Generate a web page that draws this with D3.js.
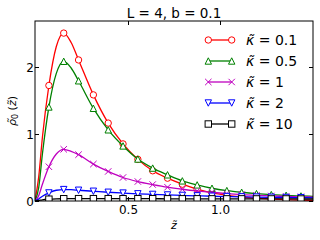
<!DOCTYPE html>
<html>
<head>
<meta charset="utf-8">
<script src="https://cdn.jsdelivr.net/npm/d3@7"></script>
<style>
  body { margin: 0; background: #fff; }
  text { font-family: "DejaVu Sans", sans-serif; }
</style>
</head>
<body>
<svg id="chart" width="320" height="240"></svg>
<script>
// z grid; markers sit at every 0.08 starting at 0.075
const z = [0, 0.02, 0.04, 0.075, 0.115, 0.155, 0.195, 0.235, 0.315, 0.395, 0.475, 0.555,
  0.635, 0.715, 0.795, 0.875, 0.955, 1.035, 1.115, 1.195, 1.275, 1.355, 1.435, 1.5];
const zMarks = [0.075, 0.155, 0.235, 0.315, 0.395, 0.475, 0.555, 0.635, 0.715, 0.795,
  0.875, 0.955, 1.035, 1.115, 1.195, 1.275, 1.355, 1.435];

const kappa01 = [0, 0.36, 0.95, 1.72, 2.3, 2.5, 2.36, 2.1, 1.58, 1.16, 0.85, 0.62,
  0.45, 0.34, 0.25, 0.175, 0.12, 0.085, 0.06, 0.042, 0.03, 0.02, 0.013, 0.01];
const kappa05 = [0, 0.2, 0.7, 1.4, 1.9, 2.08, 1.98, 1.79, 1.38, 1.06, 0.82, 0.625,
  0.49, 0.39, 0.3, 0.24, 0.19, 0.155, 0.13, 0.11, 0.095, 0.085, 0.075, 0.07];
const kappa1 = [0, 0.08, 0.25, 0.51, 0.7, 0.77, 0.74, 0.69, 0.55, 0.44, 0.35, 0.29,
  0.245, 0.205, 0.175, 0.15, 0.13, 0.11, 0.095, 0.085, 0.075, 0.068, 0.062, 0.058];
const kappa2 = [0, 0.03, 0.07, 0.12, 0.16, 0.17, 0.168, 0.16, 0.145, 0.13, 0.118, 0.107,
  0.098, 0.09, 0.083, 0.077, 0.071, 0.066, 0.062, 0.058, 0.055, 0.052, 0.05, 0.048];
const kappa10 = [0, 0.008, 0.018, 0.027, 0.032, 0.034, 0.035, 0.035, 0.035, 0.035, 0.034, 0.034,
  0.034, 0.033, 0.033, 0.033, 0.032, 0.032, 0.032, 0.031, 0.031, 0.031, 0.03, 0.03];

const labels = ["0.1", "0.5", "1", "2", "10"];
const colors = ["#ff0000", "#008000", "#bf00bf", "#0000ff", "#000000"];
const shapes = ["circle", "up", "x", "down", "square"];
const seriesValues = [kappa01, kappa05, kappa1, kappa2, kappa10];

const xTicks = [0.5, 1.0];
const yTicks = [0, 1, 2];

const margin = {left: 35, right: 7, top: 21, bottom: 39};
const width = 320, height = 240;
const svg = d3.select("#chart");

const x = d3.scaleLinear().domain([0, 1.5]).range([margin.left, width - margin.right]);
const y = d3.scaleLinear().domain([0, 2.68]).range([height - margin.bottom, margin.top]);

svg.append("defs").append("clipPath").attr("id", "clip")
  .append("rect")
  .attr("x", x.range()[0]).attr("y", y.range()[1])
  .attr("width", x.range()[1] - x.range()[0])
  .attr("height", y.range()[0] - y.range()[1]);

function marker(g, shape, color) {
  const s = 3.2;
  if (shape === "circle") {
    g.append("circle").attr("r", s).attr("fill", "#fff").attr("stroke", color);
  } else if (shape === "square") {
    g.append("rect").attr("x", -s).attr("y", -s).attr("width", 2 * s).attr("height", 2 * s)
      .attr("fill", "#fff").attr("stroke", color);
  } else if (shape === "up") {
    g.append("path").attr("d", `M0,${-s}L${s},${s}L${-s},${s}Z`).attr("fill", "#fff").attr("stroke", color);
  } else if (shape === "down") {
    g.append("path").attr("d", `M0,${s}L${s},${-s}L${-s},${-s}Z`).attr("fill", "#fff").attr("stroke", color);
  } else {
    g.append("path").attr("d", `M${-s},${-s}L${s},${s}M${-s},${s}L${s},${-s}`).attr("stroke", color);
  }
  g.attr("stroke-width", 1);
}

const line = d3.line()
  .x((d) => x(d[0]))
  .y((d) => y(d[1]))
  .curve(d3.curveMonotoneX);

const plot = svg.append("g").attr("clip-path", "url(#clip)");
seriesValues.forEach((vals, i) => {
  const pts = z.map((d, j) => [d, vals[j]]);
  plot.append("path").attr("d", line(pts)).attr("fill", "none")
    .attr("stroke", colors[i]).attr("stroke-width", 1.3);
  pts.filter((p) => zMarks.includes(p[0])).forEach((p) => {
    marker(plot.append("g").attr("transform", `translate(${x(p[0])},${y(p[1])})`), shapes[i], colors[i]);
  });
});

// frame and inward ticks on all four sides
const [x0, x1] = x.range();
const [y0, y1] = y.range();
svg.append("rect").attr("x", x0).attr("y", y1).attr("width", x1 - x0).attr("height", y0 - y1)
  .attr("fill", "none").attr("stroke", "#000").attr("stroke-width", 1);
const tl = 4;
xTicks.forEach((t) => {
  const px = Math.round(x(t)) + 0.5;
  svg.append("path").attr("d", `M${px},${y0}v${-tl}M${px},${y1}v${tl}`).attr("stroke", "#000");
  svg.append("text").attr("x", px).attr("y", y0 + 13).attr("text-anchor", "middle")
    .attr("font-size", 12).text(d3.format(".1f")(t));
});
yTicks.forEach((t) => {
  const py = Math.round(y(t)) + 0.5;
  svg.append("path").attr("d", `M${x0},${py}h${tl}M${x1},${py}h${-tl}`).attr("stroke", "#000");
  svg.append("text").attr("x", x0 - 1).attr("y", py + 4.5).attr("text-anchor", "end")
    .attr("font-size", 12).text(t);
});

svg.append("text").attr("x", (x0 + x1) / 2).attr("y", 18.3).attr("text-anchor", "middle")
  .attr("font-size", 13.5).text("L = 4, b = 0.1");

svg.append("text").attr("x", (x0 + x1) / 2).attr("y", 229).attr("text-anchor", "middle")
  .attr("font-size", 11).attr("font-style", "italic").text("z\u0303");

const yl = svg.append("text").attr("transform", `translate(16,${(y0 + y1) / 2}) rotate(-90)`)
  .attr("text-anchor", "middle").attr("font-size", 11);
yl.append("tspan").attr("font-style", "italic").text("\u03c1\u0303");
yl.append("tspan").attr("font-size", 8).attr("dy", 2).text("0");
yl.append("tspan").attr("dy", -2).text(" (");
yl.append("tspan").attr("font-style", "italic").text("z\u0303");
yl.append("tspan").text(")");

// legend
const legend = svg.append("g");
labels.forEach((lab, i) => {
  const ly = 40 + i * 21;
  const g = legend.append("g").attr("transform", `translate(0,${ly})`);
  g.append("line").attr("x1", 208.3).attr("x2", 231.7).attr("stroke", colors[i]).attr("stroke-width", 1.3);
  marker(g.append("g").attr("transform", "translate(208.3,0)"), shapes[i], colors[i]);
  marker(g.append("g").attr("transform", "translate(231.7,0)"), shapes[i], colors[i]);
  const t = g.append("text").attr("x", 246).attr("y", 5).attr("font-size", 14);
  t.append("tspan").attr("font-style", "italic").text("\u03ba\u0303");
  t.append("tspan").text(" = " + lab);
});
</script>
</body>
</html>
